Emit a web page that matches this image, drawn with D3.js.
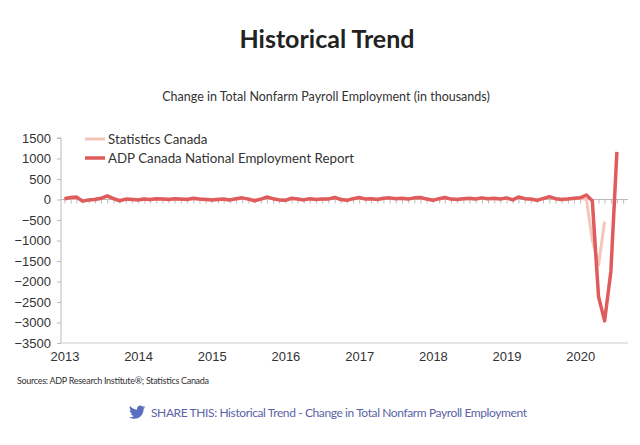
<!DOCTYPE html>
<html>
<head>
<meta charset="utf-8">
<script src="https://cdn.jsdelivr.net/npm/d3@7"></script>
<style>
  body { margin: 0; background: #fff; }
  svg { display: block; font-family: Lato, "Noto Sans", sans-serif; }
  .axis path, .axis line { stroke: #bbb; }
  .axis text { fill: #333; font-size: 13px; }
</style>
</head>
<body>
<div id="chart"></div>
<script>
// monthly change, thousands, starting Jan 2013
const startYear = 2013;
const adpValues = [
  20, 50, 60, -40, -10, 0, 30, 90, 20, -30, 10, 0,      // 2013
  -10, 10, 0, 20, 10, 0, 20, 10, 0, 30, 10, 0,          // 2014
  -10, 0, 10, -10, 20, 40, 10, -30, 10, 60, 20, -10,    // 2015
  -20, 30, 10, -10, 20, 0, 10, 10, 50, 0, -20, 20,      // 2016
  50, 10, 20, 0, 30, 40, 20, 30, 10, 40, 50, 10,        // 2017
  -20, 20, 50, 10, 0, 20, 30, 10, 40, 20, 30, 10,       // 2018
  40, -10, 60, 20, 10, -20, 20, 70, 20, 0, 10, 30,      // 2019
  40, 110, -30, -2370, -2960, -1760, 1160               // 2020
];
const statcanValues = [
  10, 40, 50, -30, -20, 10, 20, 70, 30, -20, 0, 10,
  0, 20, -10, 10, 20, 10, 10, 0, 10, 20, 0, 10,
  0, 10, 0, -20, 10, 30, 20, -20, 0, 50, 10, 0,
  -10, 20, 20, 0, 10, 10, 0, 20, 40, 10, -10, 10,
  40, 20, 10, 10, 20, 30, 30, 20, 20, 30, 40, 20,
  -10, 10, 40, 20, 10, 10, 20, 20, 30, 10, 20, 20,
  30, 0, 50, 30, 0, -10, 30, 60, 10, 10, 20, 20,
  30, 0, -980, -1600, -540
];
const seriesNames = ["Statistics Canada", "ADP Canada National Employment Report"];
const seriesColors = ["#f4c6b9", "#e05b5b"];
const yTicks = [1500, 1000, 500, 0, -500, -1000, -1500, -2000, -2500, -3000, -3500];

const toPoints = (vals) => vals.map((v, i) => ({ date: new Date(startYear, i, 1), value: v }));
const series = [
  { name: seriesNames[0], color: seriesColors[0], width: 3, data: toPoints(statcanValues) },
  { name: seriesNames[1], color: seriesColors[1], width: 3.5, data: toPoints(adpValues) }
];

const width = 640, height = 445;
const margin = { top: 138, right: 12, bottom: 102, left: 61 };

const svg = d3.select("#chart").append("svg")
  .attr("width", width)
  .attr("height", height);

svg.append("text")
  .attr("x", 327).attr("y", 48)
  .attr("text-anchor", "middle")
  .attr("font-size", 25).attr("font-weight", 700)
  .attr("fill", "#222")
  .text("Historical Trend");

svg.append("text")
  .attr("x", 326).attr("y", 101)
  .attr("text-anchor", "middle")
  .attr("font-size", 12.5)
  .attr("fill", "#333")
  .text("Change in Total Nonfarm Payroll Employment (in thousands)");

const x = d3.scaleTime()
  .domain([new Date(2012, 11, 15), new Date(2020, 7, 25)])
  .range([margin.left, width - margin.right]);

const y = d3.scaleLinear()
  .domain([-3500, 1500])
  .range([height - margin.bottom, margin.top]);

// bottom baseline
svg.append("line")
  .attr("x1", x.range()[0]).attr("x2", x.range()[1])
  .attr("y1", y(-3500)).attr("y2", y(-3500))
  .attr("stroke", "#ccc");

// y axis
svg.append("g")
  .attr("class", "axis")
  .attr("transform", `translate(${margin.left},0)`)
  .call(d3.axisLeft(y).tickValues(yTicks).tickSize(4).tickPadding(6).tickFormat(d3.format("d")))
  .call(g => g.select(".domain").attr("d", `M-4,${y(1500)}H0V${y(-3500)}`));

// zero line with month ticks
svg.append("g")
  .attr("class", "axis")
  .attr("transform", `translate(0,${y(0)})`)
  .call(d3.axisBottom(x).ticks(d3.timeMonth.every(1)).tickSize(4).tickFormat(""))
  .call(g => g.select(".domain").attr("d", `M${x.range()[0]},0H${x.range()[1]}`));

// year labels
svg.append("g")
  .attr("class", "axis")
  .attr("transform", `translate(0,${y(-3500)})`)
  .call(d3.axisBottom(x).ticks(d3.timeYear.every(1)).tickSize(0).tickPadding(9).tickFormat(d3.timeFormat("%Y")))
  .call(g => g.select(".domain").remove());

const line = d3.line()
  .x(d => x(d.date))
  .y(d => y(d.value));

svg.append("g")
  .selectAll("path")
  .data(series)
  .join("path")
  .attr("fill", "none")
  .attr("stroke", d => d.color)
  .attr("stroke-width", d => d.width)
  .attr("stroke-linejoin", "round")
  .attr("d", d => line(d.data));

// legend
const legend = svg.append("g")
  .attr("transform", "translate(85,139)")
  .selectAll("g")
  .data(series)
  .join("g")
  .attr("transform", (d, i) => `translate(0,${i * 19})`);

legend.append("line")
  .attr("x1", 0).attr("x2", 20)
  .attr("stroke", d => d.color)
  .attr("stroke-width", d => d.width);

legend.append("text")
  .attr("x", 23).attr("dy", "0.35em")
  .attr("font-size", 13.3)
  .attr("fill", "#333")
  .text(d => d.name);

svg.append("text")
  .attr("x", 17).attr("y", 384)
  .attr("font-size", 9)
  .attr("fill", "#333")
  .attr("textLength", 192)
  .text("Sources: ADP Research Institute\u00AE; Statistics Canada");

// share line
const share = svg.append("g").attr("transform", "translate(129,404)");
share.append("path")
  .attr("transform", "scale(0.68)")
  .attr("fill", "#5b6fc0")
  .attr("d", "M24 4.6c-.9.4-1.8.6-2.8.8 1-.6 1.8-1.6 2.2-2.7-1 .6-2 1-3.1 1.2-.9-1-2.2-1.6-3.6-1.6-2.7 0-4.9 2.2-4.9 4.9 0 .4 0 .8.1 1.1C7.7 8.1 4.1 6.1 1.7 3.1c-.4.7-.7 1.6-.7 2.5 0 1.7.9 3.2 2.2 4.1-.8 0-1.6-.2-2.2-.6v.1c0 2.4 1.7 4.4 3.9 4.8-.4.1-.8.2-1.3.2-.3 0-.6 0-.9-.1.6 2 2.4 3.4 4.6 3.4-1.7 1.3-3.8 2.1-6.1 2.1-.4 0-.8 0-1.2-.1 2.2 1.4 4.8 2.2 7.5 2.2 9.1 0 14-7.5 14-14v-.6c1-.7 1.8-1.6 2.5-2.5z");

share.append("text")
  .attr("x", 22).attr("y", 13)
  .attr("font-size", 12)
  .attr("fill", "#5b63a8")
  .attr("textLength", 376)
  .text("SHARE THIS: Historical Trend - Change in Total Nonfarm Payroll Employment");
</script>
</body>
</html>
